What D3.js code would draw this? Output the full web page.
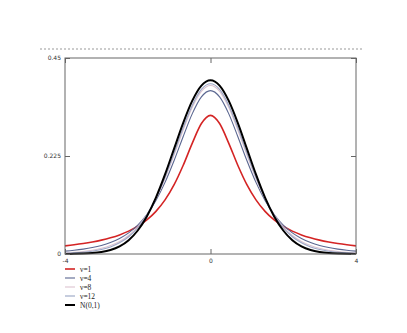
<!DOCTYPE html>
<html><head><meta charset="utf-8">
<script src="https://cdn.jsdelivr.net/npm/d3@7"></script>
<style>body{margin:0;background:#fff}svg{display:block}</style>
</head><body>
<svg id="c" width="407" height="333"></svg>
<script>
const xs = [-4,-3.75,-3.5,-3.25,-3,-2.75,-2.5,-2.25,-2,-1.75,-1.5,-1.25,-1,-0.75,-0.5,-0.25,0,0.25,0.5,0.75,1,1.25,1.5,1.75,2,2.25,2.5,2.75,3,3.25,3.5,3.75,4];
const nu1 = [0.01872,0.02113,0.02402,0.02753,0.03183,0.03718,0.04390,0.05251,0.06366,0.07835,0.09794,0.12422,0.15915,0.20372,0.25465,0.29959,0.31831,0.29959,0.25465,0.20372,0.15915,0.12422,0.09794,0.07835,0.06366,0.05251,0.04390,0.03718,0.03183,0.02753,0.02402,0.02113,0.01872];
const nu4 = [0.00671,0.00865,0.01128,0.01483,0.01969,0.02640,0.03567,0.04854,0.06629,0.09053,0.12288,0.16445,0.21466,0.26989,0.32226,0.36074,0.375,0.36074,0.32226,0.26989,0.21466,0.16445,0.12288,0.09053,0.06629,0.04854,0.03567,0.02640,0.01969,0.01483,0.01128,0.00865,0.00671];
const nu8 = [0.00276,0.00403,0.00592,0.00875,0.01301,0.01936,0.02877,0.04257,0.06236,0.08994,0.12677,0.17326,0.22761,0.28482,0.33670,0.37339,0.38670,0.37339,0.33670,0.28482,0.22761,0.17326,0.12677,0.08994,0.06236,0.04257,0.02877,0.01936,0.01301,0.00875,0.00592,0.00403,0.00276];
const nu12 = [0.00159,0.00253,0.00404,0.00645,0.01028,0.01630,0.02561,0.03965,0.06024,0.08917,0.12787,0.17634,0.23224,0.29011,0.34172,0.37776,0.39073,0.37776,0.34172,0.29011,0.23224,0.17634,0.12787,0.08917,0.06024,0.03965,0.02561,0.01630,0.01028,0.00645,0.00404,0.00253,0.00159];
const norm = [0.00013,0.00035,0.00087,0.00203,0.00443,0.00909,0.01753,0.03174,0.05399,0.08628,0.12952,0.18265,0.24197,0.30114,0.35207,0.38667,0.39894,0.38667,0.35207,0.30114,0.24197,0.18265,0.12952,0.08628,0.05399,0.03174,0.01753,0.00909,0.00443,0.00203,0.00087,0.00035,0.00013];
const seriesNames = ["\u03bd=1","\u03bd=4","\u03bd=8","\u03bd=12","N(0,1)"];
const seriesData = [nu1, nu4, nu8, nu12, norm];
const seriesColors = ["#d42424","#5a6690","#dcc4d0","#98a4c4","#000000"];
const seriesWidths = [1.6,1.1,1.1,1.1,2];
const xTicks = [-4,0,4];
const yTicks = [0,0.225,0.45];

const svg = d3.select("#c");
const L=65,R=356,T=58,B=254;
const x = d3.scaleLinear().domain([-4,4]).range([L,R]);
const y = d3.scaleLinear().domain([0,0.45]).range([B,T]);

svg.append("rect").attr("width",407).attr("height",333).attr("fill","#fff");
// dotted top rule
svg.append("line").attr("x1",40).attr("x2",363).attr("y1",49).attr("y2",49)
  .attr("stroke","#999").attr("stroke-width",1).attr("stroke-dasharray","2,2");

const line = d3.line().x((d,i)=>x(xs[i])).y(d=>y(d)).curve(d3.curveMonotoneX);
const draw=[0,1,2,3,4];
svg.append("g").attr("clip-path",null).selectAll("path").data(draw).join("path")
  .attr("d",i=>line(seriesData[i])).attr("fill","none")
  .attr("stroke",i=>seriesColors[i]).attr("stroke-width",i=>seriesWidths[i]);

// box
svg.append("rect").attr("x",L).attr("y",T).attr("width",R-L).attr("height",B-T)
  .attr("fill","none").attr("stroke","#666").attr("stroke-width",1);

// axes
const fmtY = d=> d===0?"0":String(d);
const yAxis = d3.axisLeft(y).tickValues(yTicks).tickSize(-5).tickPadding(4).tickFormat(fmtY);
const gy = svg.append("g").attr("transform",`translate(${L},0)`).call(yAxis);
const yAxisR = d3.axisRight(y).tickValues(yTicks).tickSize(-5).tickFormat("");
const gyr = svg.append("g").attr("transform",`translate(${R},0)`).call(yAxisR);
const xAxis = d3.axisBottom(x).tickValues(xTicks).tickSize(-5).tickPadding(5).tickFormat(d=>d);
const gx = svg.append("g").attr("transform",`translate(0,${B})`).call(xAxis);
const xAxisT = d3.axisTop(x).tickValues(xTicks).tickSize(-5).tickFormat("");
const gxt = svg.append("g").attr("transform",`translate(0,${T})`).call(xAxisT);
[gy,gyr,gx,gxt].forEach(g=>{
  g.select(".domain").remove();
  g.selectAll("line").attr("stroke","#666");
  g.selectAll("text").attr("font-family","DejaVu Sans, sans-serif").attr("font-size",6).attr("fill","#333");
});

// legend
const lg = svg.append("g");
seriesNames.forEach((n,i)=>{
  const yy = 269 + i*9;
  lg.append("line").attr("x1",65).attr("x2",75).attr("y1",yy).attr("y2",yy)
    .attr("stroke",seriesColors[i]).attr("stroke-width",seriesWidths[i]);
  lg.append("text").attr("x",80).attr("y",yy+2.5).text(n)
    .attr("font-family","Liberation Serif, serif").attr("font-size",7.5).attr("fill","#222");
});
</script>
</body></html>
